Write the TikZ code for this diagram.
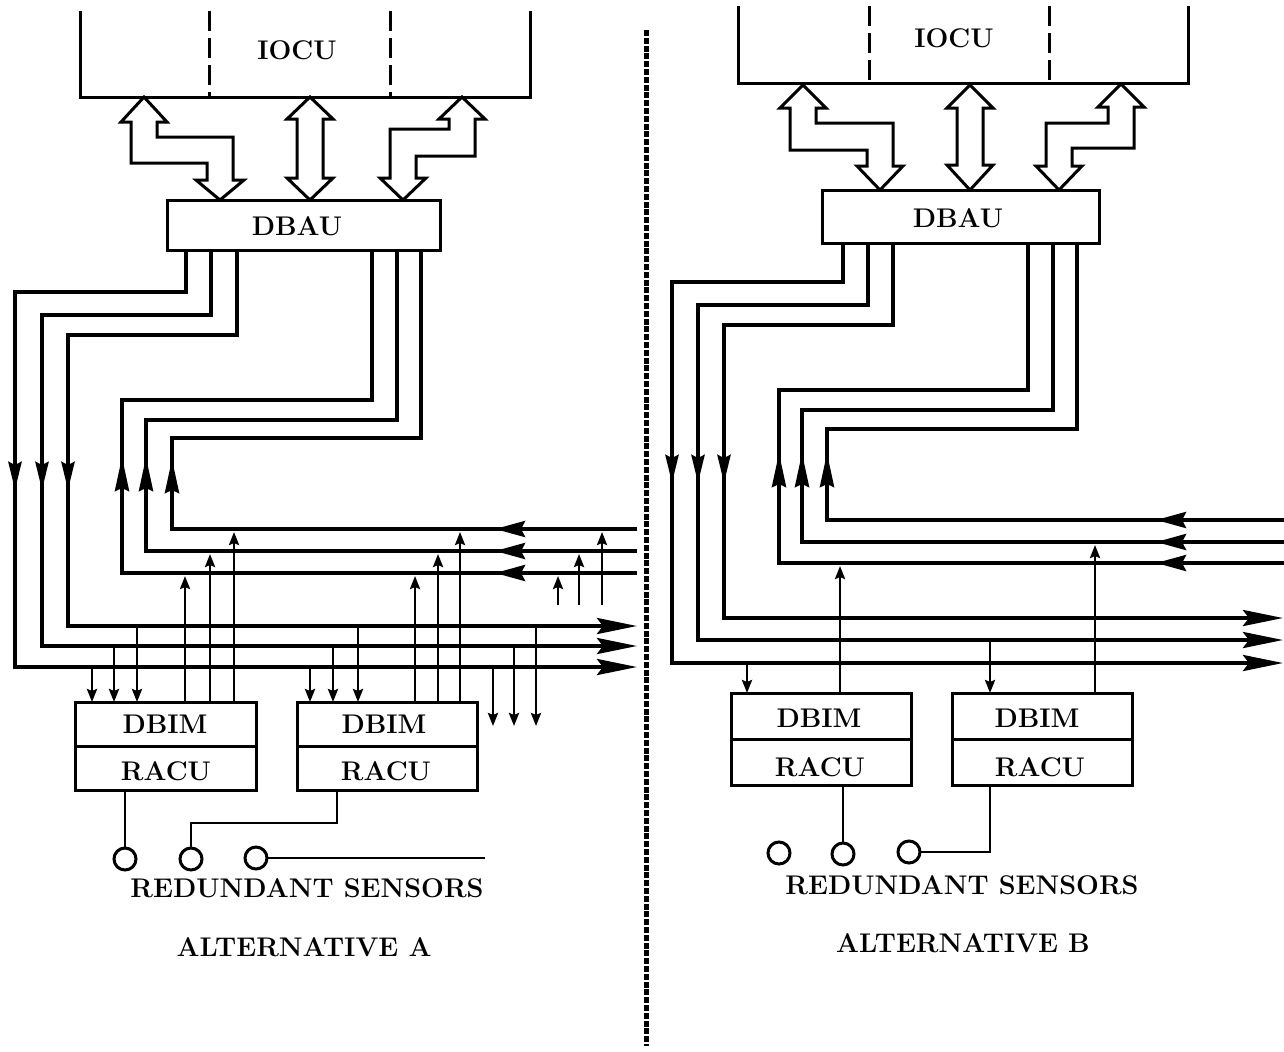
\documentclass[tikz,border=0pt]{standalone}
\usepackage{fontspec}
\usetikzlibrary{arrows.meta}
\tikzset{
  bus/.style={line width=2pt},
  tap/.style={line width=1.3pt},
  wire/.style={line width=1.4pt},
  edge/.style={line width=1.5pt},
  dashline/.style={line width=1.5pt, dash pattern=on 10pt off 3.5pt},
  frame/.style={rectangle, inner sep=0pt, outer sep=0pt},
  box/.style={draw, rectangle, line width=1.5pt, inner sep=0pt, outer sep=0pt},
  sensor/.style={draw, circle, line width=1.5pt, minimum size=11pt, inner sep=0pt, outer sep=0pt},
  hollow/.style={draw, line width=1.5pt, fill=white},
  lbl/.style={font=\bfseries\fontsize{13.5}{16}\selectfont, inner sep=0pt},
  tipR/.style={-{Stealth[length=20pt,width=8pt,inset=3pt]}},
  tipL/.style={-{Stealth[length=15pt,width=8pt,inset=2pt]}},
  tipD/.style={-{Stealth[length=14pt,width=6.5pt,inset=1.5pt]}},
  tipU/.style={-{Stealth[length=17pt,width=7pt,inset=1.5pt]}},
  tipS/.style={-{Stealth[length=6.5pt,width=5pt,inset=1pt]}},
}
\begin{document}
\begin{tikzpicture}[x=0.5pt,y=-0.5pt,line join=miter]
\useasboundingbox (0,0) rectangle (1284,1051);
\fill[white] (0,0) rectangle (1284,1051);

% ================= ALTERNATIVE A =================
\node[frame, minimum width=225pt, minimum height=43pt] (iocuA) at (305,54) {};
\draw[edge] (iocuA.north west) -- (iocuA.south west) -- (iocuA.south east) -- (iocuA.north east);
\draw[dashline] (209,0 |- iocuA.north) -- (209,0 |- iocuA.south);
\draw[dashline] (390,0 |- iocuA.north) -- (390,0 |- iocuA.south);
\node[lbl] (iocuAt) at (297,50) {IOCU};

\node[box, minimum width=136.5pt, minimum height=25pt] (dbauA) at (303.5,225) {};
\node[lbl] (dbauAt) at (297,226) {DBAU};

% hollow double arrows
\draw[hollow] (144,97) -- (167,122) -- (157,122) -- (157,137) -- (233,137) -- (233,180) -- (244,180)
  -- (220,200) -- (196,180) -- (207,180) -- (207,163) -- (131,163) -- (131,122) -- (121,122) -- cycle;
\draw[hollow] (310,97) -- (333,119) -- (323,119) -- (323,178) -- (333,178) -- (310,200)
  -- (287,178) -- (297,178) -- (297,119) -- (287,119) -- cycle;
\draw[hollow] (462,97) -- (485,119) -- (475,119) -- (475,156) -- (416,156) -- (416,178) -- (426,178)
  -- (403,200) -- (380,178) -- (390,178) -- (390,129) -- (449,129) -- (449,119) -- (439,119) -- cycle;

% outgoing buses
\draw[bus,tipR] (186,0 |- dbauA.south) -- (186,292) -- (15,292) -- (15,667) -- (637,667);
\draw[bus,tipR] (211,0 |- dbauA.south) -- (211,315) -- (42,315) -- (42,646) -- (637,646);
\draw[bus,tipR] (237,0 |- dbauA.south) -- (237,335) -- (68,335) -- (68,626) -- (637,626);
\draw[bus,tipD] (15,440) -- (15,490);
\draw[bus,tipD] (42,440) -- (42,490);
\draw[bus,tipD] (68,440) -- (68,490);

% return buses
\draw[bus] (637,573) -- (122,573) -- (122,400) -- (372,400) -- (372,0 |- dbauA.south);
\draw[bus] (637,551) -- (146,551) -- (146,420) -- (397,420) -- (397,0 |- dbauA.south);
\draw[bus] (637,529) -- (172,529) -- (172,438) -- (421,438) -- (421,0 |- dbauA.south);
\draw[bus,tipL] (560,573) -- (495,573);
\draw[bus,tipL] (560,551) -- (495,551);
\draw[bus,tipL] (560,529) -- (495,529);
\draw[bus,tipU] (122,510) -- (122,457);
\draw[bus,tipU] (146,510) -- (146,457);
\draw[bus,tipU] (172,510) -- (172,459);

% DBIM/RACU units
\node[box, minimum width=90.5pt, minimum height=44pt] (dbimA1) at (165.5,746) {};
\draw[edge] (dbimA1.west) -- (dbimA1.east);
\node[lbl] (dbimA1t) at (165,724) {DBIM};
\node[lbl] (racuA1t) at (166,771) {RACU};
\node[box, minimum width=90pt, minimum height=44pt] (dbimA2) at (387,746) {};
\draw[edge] (dbimA2.west) -- (dbimA2.east);
\node[lbl] (dbimA2t) at (384,724) {DBIM};
\node[lbl] (racuA2t) at (386,771) {RACU};

% taps
\draw[tap,tipS] (92,667) -- (92,0 |- dbimA1.north);
\draw[tap,tipS] (114,646) -- (114,0 |- dbimA1.north);
\draw[tap,tipS] (137,626) -- (137,0 |- dbimA1.north);
\draw[tap,tipS] (185,0 |- dbimA1.north) -- (185,576);
\draw[tap,tipS] (210,0 |- dbimA1.north) -- (210,554);
\draw[tap,tipS] (234,0 |- dbimA1.north) -- (234,532);
\draw[tap,tipS] (310,667) -- (310,0 |- dbimA2.north);
\draw[tap,tipS] (333,646) -- (333,0 |- dbimA2.north);
\draw[tap,tipS] (358,626) -- (358,0 |- dbimA2.north);
\draw[tap,tipS] (415,0 |- dbimA2.north) -- (415,576);
\draw[tap,tipS] (438,0 |- dbimA2.north) -- (438,554);
\draw[tap,tipS] (460,0 |- dbimA2.north) -- (460,532);
\coordinate (offA1) at (493,726);
\coordinate (offA2) at (514,726);
\coordinate (offA3) at (536,726);
\draw[tap,tipS] (493,667) -- (offA1);
\draw[tap,tipS] (514,646) -- (offA2);
\draw[tap,tipS] (536,626) -- (offA3);
\coordinate (inA1) at (558,605);
\coordinate (inA2) at (579,605);
\coordinate (inA3) at (602,605);
\draw[tap,tipS] (inA1) -- (558,576);
\draw[tap,tipS] (inA2) -- (579,554);
\draw[tap,tipS] (inA3) -- (602,532);

% sensors
\node[sensor] (sA1) at (125,859) {};
\node[sensor] (sA2) at (191,859) {};
\node[sensor] (sA3) at (256,858) {};
\coordinate (sAend) at (485,858);
\draw[wire] (sA1.north |- dbimA1.south) -- (sA1.north);
\draw[wire] (337,0 |- dbimA2.south) -- (337,823) -- (sA2.north |- 0,823) -- (sA2.north);
\draw[wire] (sA3.east) -- (sAend);
\node[lbl] (redA) at (307,888) {REDUNDANT SENSORS};
\node[lbl] (altA) at (304,947) {\addfontfeatures{LetterSpace=8}ALTERNATIVE A};

% ================= separator =================
\coordinate (sepTop) at (646,30);
\coordinate (sepBot) at (646,1046);
\draw[line width=2.5pt, dash pattern=on 3pt off 0.9pt] (sepTop) -- (sepBot);

% ================= ALTERNATIVE B =================
\node[frame, minimum width=225pt, minimum height=38.5pt] (iocuB) at (963,44.5) {};
\draw[edge] (iocuB.north west) -- (iocuB.south west) -- (iocuB.south east) -- (iocuB.north east);
\draw[dashline] (869,0 |- iocuB.north) -- (869,0 |- iocuB.south);
\draw[dashline] (1049,0 |- iocuB.north) -- (1049,0 |- iocuB.south);
\node[lbl] (iocuBt) at (954,38) {IOCU};

\node[box, minimum width=138.5pt, minimum height=26.5pt] (dbauB) at (960.5,216.5) {};
\node[lbl] (dbauBt) at (958,218) {DBAU};

\draw[hollow] (803,85) -- (826,108) -- (816,108) -- (816,123) -- (893,123) -- (893,166) -- (903,166)
  -- (880,190) -- (857,166) -- (867,166) -- (867,150) -- (790,150) -- (790,108) -- (780,108) -- cycle;
\draw[hollow] (970,85) -- (993,108) -- (983,108) -- (983,165) -- (993,165) -- (970,190)
  -- (947,165) -- (957,165) -- (957,108) -- (947,108) -- cycle;
\draw[hollow] (1121,84) -- (1144,107) -- (1134,107) -- (1134,148) -- (1072,148) -- (1072,166) -- (1082,166)
  -- (1059,190) -- (1036,166) -- (1046,166) -- (1046,123) -- (1108,123) -- (1108,107) -- (1098,107) -- cycle;

% outgoing buses
\draw[bus,tipR] (843,0 |- dbauB.south) -- (843,282) -- (672,282) -- (672,663) -- (1283,663);
\draw[bus,tipR] (868,0 |- dbauB.south) -- (868,305) -- (698,305) -- (698,640) -- (1283,640);
\draw[bus,tipR] (893,0 |- dbauB.south) -- (893,325) -- (724,325) -- (724,618) -- (1283,618);
\draw[bus,tipD] (672,433) -- (672,483);
\draw[bus,tipD] (698,433) -- (698,483);
\draw[bus,tipD] (724,433) -- (724,483);

% return buses
\draw[bus] (1284,563) -- (779,563) -- (779,390) -- (1028,390) -- (1028,0 |- dbauB.south);
\draw[bus] (1284,542) -- (802,542) -- (802,410) -- (1053,410) -- (1053,0 |- dbauB.south);
\draw[bus] (1284,520) -- (827,520) -- (827,429) -- (1077,429) -- (1077,0 |- dbauB.south);
\draw[bus,tipL] (1220,563) -- (1156,563);
\draw[bus,tipL] (1220,542) -- (1156,542);
\draw[bus,tipL] (1220,520) -- (1156,520);
\draw[bus,tipU] (779,505) -- (779,453);
\draw[bus,tipU] (802,505) -- (802,453);
\draw[bus,tipU] (827,505) -- (827,453);

% DBIM/RACU units
\node[box, minimum width=90pt, minimum height=46pt] (dbimB1) at (821,739) {};
\draw[edge] (dbimB1.west) -- (dbimB1.east);
\node[lbl] (dbimB1t) at (819,718) {DBIM};
\node[lbl] (racuB1t) at (820,767) {RACU};
\node[box, minimum width=90pt, minimum height=46pt] (dbimB2) at (1042,739) {};
\draw[edge] (dbimB2.west) -- (dbimB2.east);
\node[lbl] (dbimB2t) at (1037,718) {DBIM};
\node[lbl] (racuB2t) at (1040,767) {RACU};

% taps
\draw[tap,tipS] (747,663) -- (747,0 |- dbimB1.north);
\draw[tap,tipS] (840,0 |- dbimB1.north) -- (840,566);
\draw[tap,tipS] (990,640) -- (990,0 |- dbimB2.north);
\draw[tap,tipS] (1095,0 |- dbimB2.north) -- (1095,545);

% sensors
\node[sensor] (sB1) at (779,853) {};
\node[sensor] (sB2) at (843,854) {};
\node[sensor] (sB3) at (909,852) {};
\draw[wire] (sB2.north |- dbimB1.south) -- (sB2.north);
\draw[wire] (990,0 |- dbimB2.south) -- (990,0 |- sB3.east) -- (sB3.east);
\node[lbl] (redB) at (962,885) {REDUNDANT SENSORS};
\node[lbl] (altB) at (963,943) {\addfontfeatures{LetterSpace=8}ALTERNATIVE B};
\end{tikzpicture}
\end{document}
